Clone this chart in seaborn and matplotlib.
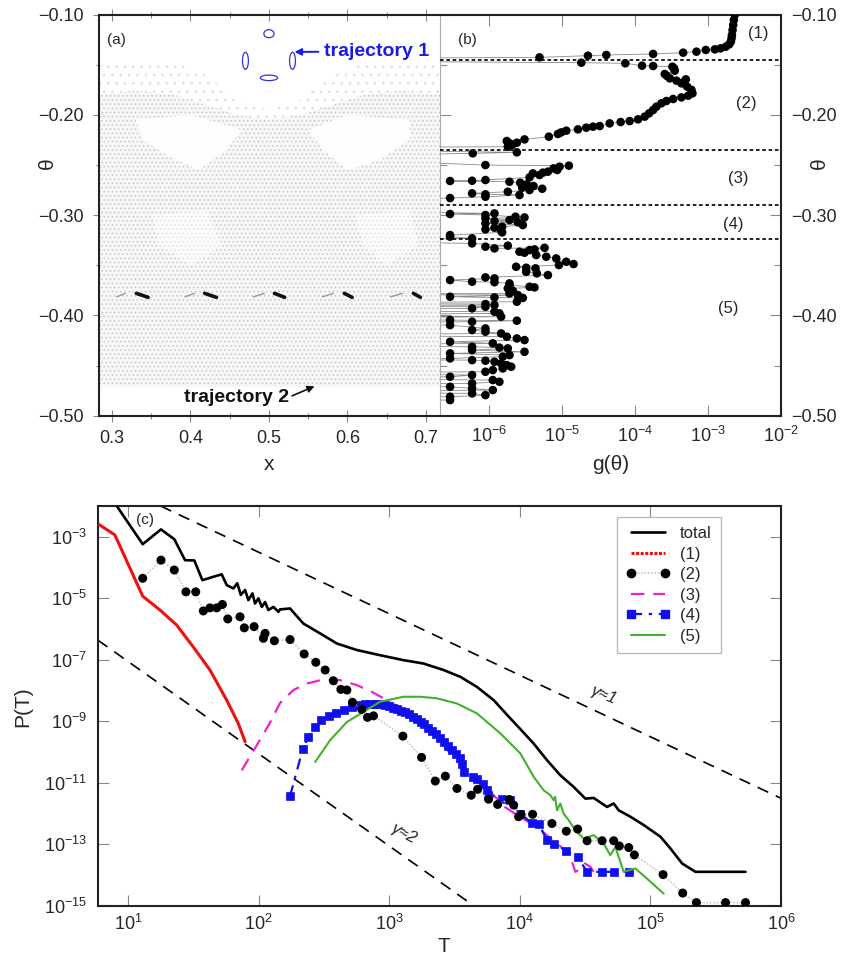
import numpy as np
import pandas as pd
import matplotlib
matplotlib.use('Agg')
import matplotlib.pyplot as plt
import seaborn as sns
from matplotlib.patches import Ellipse
from matplotlib.lines import Line2D
from matplotlib.ticker import FixedLocator, NullLocator, FuncFormatter

# ---------------- panel (a): phase-space picture ----------------
cloud_top_x = [0.283, 0.33, 0.38, 0.42, 0.46, 0.50, 0.54, 0.58, 0.62, 0.67, 0.718]
cloud_top_theta = [-0.150, -0.146, -0.148, -0.160, -0.185, -0.195, -0.185, -0.160, -0.148, -0.146, -0.150]
dense_top_theta = [-0.180, -0.176, -0.180, -0.190, -0.200, -0.205, -0.200, -0.190, -0.180, -0.176, -0.180]
cloud_bottom_theta = -0.471
hole_left_x = [0.330, 0.400, 0.465, 0.445, 0.410, 0.370, 0.340]
hole_left_theta = [-0.205, -0.200, -0.215, -0.235, -0.255, -0.240, -0.225]
hole_right_x = [0.550, 0.600, 0.680, 0.680, 0.640, 0.600, 0.570]
hole_right_theta = [-0.215, -0.200, -0.205, -0.225, -0.245, -0.255, -0.235]
hole2_left_x = [0.350, 0.420, 0.440, 0.400, 0.360]
hole2_left_theta = [-0.300, -0.295, -0.330, -0.350, -0.330]
hole2_right_x = [0.610, 0.680, 0.690, 0.650, 0.620]
hole2_right_theta = [-0.300, -0.295, -0.330, -0.350, -0.330]

island_dark_x0 = [0.331, 0.418, 0.507, 0.596, 0.684]
island_dark_x1 = [0.346, 0.433, 0.520, 0.606, 0.693]
island_faint_x0 = [0.306, 0.393, 0.480, 0.568, 0.655]
island_faint_x1 = [0.317, 0.405, 0.494, 0.582, 0.670]
island_theta0 = -0.3779
island_theta1 = -0.3819

traj1_cx = [0.500, 0.470, 0.530, 0.500]
traj1_ctheta = [-0.1190, -0.1460, -0.1460, -0.1630]
traj1_w = [0.013, 0.0075, 0.0075, 0.022]
traj1_h = [0.008, 0.017, 0.017, 0.0055]

# ---------------- panel (b): g(theta) ----------------
theta_b = [
    -0.1000, -0.1053, -0.1103, -0.1153, -0.1203, -0.1236, -0.1269, -0.1296, -0.1319, -0.1336,
    -0.1346, -0.1352, -0.1369, -0.1379, -0.1392, -0.1402, -0.1409, -0.1426, -0.1439, -0.1460,
    -0.1479, -0.1485, -0.1509, -0.1512, -0.1519, -0.1535, -0.1559, -0.1592, -0.1612, -0.1635,
    -0.1645, -0.1658, -0.1685, -0.1718, -0.1751, -0.1785, -0.1808, -0.1825, -0.1841, -0.1861,
    -0.1884, -0.1918, -0.1951, -0.1984, -0.2017, -0.2044, -0.2061, -0.2071, -0.2084, -0.2111,
    -0.2117, -0.2127, -0.2144, -0.2157, -0.2174, -0.2190, -0.2217, -0.2244, -0.2260, -0.2277,
    -0.2283, -0.2300, -0.2317, -0.2327, -0.2340, -0.2373, -0.2383,
    -0.2416, -0.2500, -0.2506, -0.2516, -0.2533, -0.2549, -0.2566, -0.2576, -0.2583, -0.2599,
    -0.2623, -0.2649, -0.2656, -0.2659, -0.2666, -0.2676, -0.2692, -0.2709, -0.2726, -0.2736,
    -0.2749, -0.2766, -0.2782, -0.2792, -0.2799, -0.2816, -0.2829, -0.2865,
    -0.2950, -0.2982, -0.2988, -0.2998, -0.3015, -0.3022, -0.3032, -0.3048, -0.3058, -0.3071,
    -0.3081, -0.3098, -0.3115, -0.3125, -0.3141, -0.3155, -0.3171, -0.3198, -0.3214,
    -0.3231, -0.3254, -0.3281, -0.3304, -0.3314, -0.3331, -0.3325, -0.3341, -0.3347, -0.3364,
    -0.3374, -0.3397, -0.3414, -0.3431, -0.3464, -0.3487, -0.3497, -0.3514, -0.3524, -0.3530,
    -0.3564, -0.3580, -0.3597, -0.3620, -0.3630, -0.3647, -0.3663, -0.3668, -0.3680, -0.3697,
    -0.3713, -0.3720, -0.3730, -0.3753, -0.3780, -0.3790, -0.3796, -0.3813, -0.3820, -0.3825,
    -0.3863, -0.3875, -0.3886, -0.3896, -0.3905, -0.3913, -0.3929, -0.3945, -0.3963, -0.3979,
    -0.3995, -0.4012, -0.4030, -0.4046, -0.4052, -0.4062, -0.4080, -0.4096, -0.4129, -0.4145,
    -0.4162, -0.4179, -0.4195, -0.4212, -0.4229, -0.4245, -0.4262, -0.4278, -0.4295, -0.4312,
    -0.4320, -0.4328, -0.4345, -0.4362, -0.4378, -0.4395, -0.4411, -0.4428, -0.4437, -0.4445,
    -0.4451, -0.4461, -0.4478, -0.4495, -0.4511, -0.4528, -0.4544, -0.4561, -0.4575, -0.4594,
    -0.4611, -0.4625, -0.4644, -0.4661, -0.4677, -0.4690, -0.4711, -0.4727, -0.4744, -0.4760,
    -0.4777, -0.4794, -0.4810, -0.4825, -0.4844]
log10_g_b = [
    -2.633, -2.647, -2.656, -2.665, -2.674, -2.679, -2.688, -2.711, -2.757, -2.830,
    -2.908, -3.032, -3.160, -3.343, -3.755, -4.397, -4.649, -5.313, -9.0, -9.0,
    -4.740, -4.136, -3.907, -3.755, -3.490, -3.467, -3.458, -3.595, -3.563, -3.526,
    -3.306, -3.435, -3.366, -3.288, -3.228, -3.215, -3.274, -3.366, -3.480, -3.572,
    -3.641, -3.710, -3.755, -3.810, -3.870, -3.962, -4.076, -4.200, -4.351, -4.488,
    -4.580, -4.672, -4.786, -4.946, -5.015, -5.061, -5.185, -5.519, -5.762, -5.624,
    -5.725, -5.688, -5.748, -9.0, -9.0, -5.624, -6.229,
    -9.0, -6.055, -4.910, -5.038, -5.120, -5.070, -5.198, -5.267, -5.404, -5.313,
    -5.450, -6.055, -6.238, -6.540, -5.725, -5.579, -5.487, -5.395, -5.551, -5.276,
    -5.450, -5.748, -6.238, -6.055, -5.588, -6.055, -6.540, -9.0,
    -9.0, -5.931, -6.540, -6.055, -5.643, -5.519, -6.055, -5.725, -5.931, -5.611,
    -6.055, -5.542, -5.826, -5.931, -6.055, -5.840, -5.826, -6.540, -6.540,
    -6.238, -9.0, -6.238, -5.748, -6.055, -5.931, -5.244, -5.382, -5.450, -5.588,
    -5.519, -5.359, -5.221, -5.084, -4.946, -4.846, -5.047, -5.634, -5.496, -5.368,
    -5.496, -5.350, -5.198, -6.055, -5.931, -6.540, -6.238, -5.931, -5.725, -5.725,
    -5.450, -5.382, -5.748, -5.679, -5.725, -9.0, -5.611, -6.540, -5.931, -5.542,
    -5.624, -9.0, -6.055, -5.931, -9.0, -6.055, -6.238, -9.0, -5.931, -5.863,
    -9.0, -5.840, -9.0, -6.540, -5.624, -6.238, -9.0, -6.540, -6.055, -6.238,
    -6.055, -5.840, -9.0, -5.762, -5.624, -5.519, -6.540, -5.954, -9.0, -6.238,
    -5.863, -5.748, -6.238, -5.519, -6.540, -5.725, -5.817, -6.540, -9.0, -6.238,
    -6.055, -5.931, -5.840, -5.762, -5.702, -5.817, -5.954, -6.055, -9.0, -6.238,
    -6.540, -9.0, -5.954, -5.863, -6.238, -9.0, -6.540, -6.238, -5.954, -9.0,
    -6.238, -6.055, -6.540, -9.0, -6.540]
region_bounds = [-0.145, -0.235, -0.290, -0.324]
region_labels = ['(1)', '(2)', '(3)', '(4)', '(5)']
region_label_pos = [(0.934, 0.954), (0.899, 0.779), (0.875, 0.592), (0.860, 0.478), (0.844, 0.268)]

# ---------------- panel (c): P(T) ----------------
total_log10T = [0.913, 1.113, 1.253, 1.355, 1.437, 1.508, 1.570, 1.654, 1.718, 1.756,
                1.807, 1.837, 1.864, 1.897, 1.922, 1.953, 1.973, 1.999, 2.025, 2.050,
                2.075, 2.114, 2.152, 2.165, 2.241, 2.343, 2.471, 2.600, 2.752, 2.931,
                3.110, 3.263, 3.416, 3.544, 3.672, 3.800, 3.927, 4.004, 4.106, 4.208,
                4.310, 4.412, 4.502, 4.566, 4.668, 4.719, 4.757, 4.847, 4.949, 5.077,
                5.153, 5.243, 5.345, 5.728]
total_log10P = [-1.99, -3.24, -2.76, -3.08, -3.76, -3.77, -4.41, -4.30, -4.22, -4.57,
                -4.68, -4.51, -4.89, -4.73, -5.06, -4.84, -5.17, -5.00, -5.28, -5.12,
                -5.38, -5.28, -5.44, -5.36, -5.33, -5.82, -6.14, -6.47, -6.68, -6.85,
                -7.01, -7.12, -7.33, -7.55, -7.88, -8.31, -8.90, -9.25, -9.72, -10.26,
                -10.75, -11.13, -11.51, -11.49, -11.78, -11.67, -11.89, -12.10, -12.37, -12.75,
                -13.13, -13.62, -13.89, -13.89]
r1_log10T = [0.778, 0.900, 1.113, 1.245, 1.373, 1.500, 1.628, 1.756, 1.845, 1.897]
r1_log10P = [-2.60, -2.94, -4.93, -5.38, -5.87, -6.58, -7.33, -8.31, -9.07, -9.66]
r2_log10T = [1.113, 1.253, 1.355, 1.444, 1.519, 1.577, 1.628, 1.680, 1.723, 1.764,
             1.858, 1.891, 1.966, 2.037, 2.050, 2.121, 2.241, 2.349, 2.438, 2.510,
             2.573, 2.630, 2.676, 2.719, 2.790, 2.834, 2.880, 3.105, 3.248, 3.353,
             3.430, 3.519, 3.628, 3.677, 3.761, 3.830, 3.920, 3.953, 3.991, 4.009,
             4.098, 4.246, 4.356, 4.443, 4.515, 4.630, 4.719, 4.762, 4.834, 4.877,
             5.097, 5.247, 5.352, 5.575, 5.728]
r2_log10P = [-4.35, -3.76, -4.08, -4.79, -4.79, -5.41, -5.31, -5.31, -5.20, -5.67,
             -5.60, -5.96, -5.92, -6.30, -6.14, -6.38, -6.34, -6.81, -7.08, -7.33,
             -7.68, -7.96, -7.98, -8.38, -8.61, -8.87, -8.82, -9.48, -10.17, -10.94,
             -10.78, -11.18, -11.40, -11.21, -11.53, -11.70, -11.54, -11.72, -12.10, -12.03,
             -12.02, -12.32, -12.57, -12.50, -12.88, -12.88, -12.88, -13.05, -13.10, -13.34,
             -13.98, -14.58, -14.89, -14.89, -14.89]
r3_log10T = [1.871, 1.994, 2.080, 2.165, 2.267, 2.369, 2.497, 2.625, 2.752, 2.880,
             2.982, 3.100, 3.200, 3.300, 3.400, 3.500, 3.600, 3.700, 3.800, 3.884,
             4.000, 4.130, 4.250, 4.361, 4.387, 4.425, 4.469, 4.500, 4.540, 4.566]
r3_log10P = [-10.59, -9.72, -9.10, -8.40, -7.98, -7.77, -7.64, -7.66, -7.82, -8.07,
             -8.31, -8.60, -8.90, -9.25, -9.70, -10.20, -10.65, -11.05, -11.40, -11.78,
             -12.10, -12.43, -12.85, -13.24, -13.40, -13.89, -13.78, -13.62, -13.73, -13.89]
r4_log10T = [2.241, 2.339, 2.382, 2.433, 2.479, 2.537, 2.590, 2.652, 2.713, 2.767,
             2.816, 2.850, 2.880, 2.910, 2.940, 2.970, 3.000, 3.030, 3.060, 3.090,
             3.120, 3.150, 3.180, 3.210, 3.240, 3.270, 3.300, 3.330, 3.360, 3.390,
             3.420, 3.450, 3.480, 3.510, 3.540, 3.555, 3.576, 3.638, 3.672, 3.720,
             3.749, 3.760, 3.863, 3.927, 4.004, 4.090, 4.144, 4.208, 4.259, 4.356,
             4.443, 4.515, 4.630, 4.719, 4.834]
r4_log10P = [-11.43, -9.89, -9.50, -9.18, -8.95, -8.83, -8.74, -8.63, -8.53, -8.47,
             -8.42, -8.42, -8.42, -8.43, -8.45, -8.47, -8.50, -8.55, -8.60, -8.65,
             -8.70, -8.77, -8.85, -8.93, -9.02, -9.10, -9.20, -9.30, -9.42, -9.55,
             -9.68, -9.80, -9.93, -10.05, -10.20, -10.37, -10.64, -10.80, -10.86, -11.02,
             -11.24, -11.40, -11.51, -11.56, -12.00, -12.30, -12.32, -12.86, -12.97, -13.21,
             -13.41, -13.89, -13.89, -13.89, -13.89]
r5_log10T = [2.433, 2.548, 2.676, 2.803, 2.931, 3.110, 3.238, 3.365, 3.519, 3.672,
             3.851, 4.004, 4.106, 4.183, 4.234, 4.259, 4.270, 4.285, 4.310, 4.336,
             4.374, 4.425, 4.489, 4.566, 4.642, 4.693, 4.732, 4.795, 4.885, 5.000, 5.102]
r5_log10P = [-10.32, -9.61, -9.02, -8.69, -8.36, -8.20, -8.20, -8.25, -8.42, -8.74,
             -9.39, -10.04, -10.80, -11.24, -11.40, -11.56, -11.45, -11.89, -11.67, -12.00,
             -12.21, -12.54, -12.81, -12.70, -12.97, -13.35, -13.08, -13.89, -13.78, -14.21, -14.60]
gamma1_log10T = [1.25, 6.0]      # reference line P ~ T^-2 (gamma = 1)
gamma1_log10P = [-2.00, -11.50]
gamma2_log10T = [0.77, 3.65]     # reference line P ~ T^-3 (gamma = 2)
gamma2_log10P = [-6.36, -15.00]

# ---------------- style ----------------
sns.set_theme(style='white')
plt.rcParams['font.family'] = ['Liberation Sans', 'DejaVu Sans']
plt.rcParams['mathtext.fontset'] = 'custom'
plt.rcParams['mathtext.rm'] = 'Liberation Sans'
plt.rcParams['mathtext.it'] = 'Liberation Sans:italic'
plt.rcParams['mathtext.bf'] = 'Liberation Sans:bold'
plt.rcParams['hatch.linewidth'] = 0.6

SP = '#222222'
TK = '#888888'
FS = 13

fig = plt.figure(figsize=(8.42, 9.58), dpi=100)
axA = fig.add_axes([0.1172, 0.566, 0.4054, 0.4187])
axB = fig.add_axes([0.5226, 0.566, 0.4050, 0.4187])
axC = fig.add_axes([0.1164, 0.0543, 0.8112, 0.4175])

minus = lambda s: s.replace('-', '\u2212')

# ---- panel a ----
axA.set_xlim(0.283, 0.718)
axA.set_ylim(-0.5, -0.1)
top_poly_x = cloud_top_x + cloud_top_x[::-1]
top_poly_t = cloud_top_theta + dense_top_theta[::-1]
axA.fill(top_poly_x, top_poly_t, facecolor='white', edgecolor='#dddddd', hatch='..', linewidth=0, zorder=1)
dense_x = cloud_top_x + [cloud_top_x[-1], cloud_top_x[0]]
dense_t = dense_top_theta + [cloud_bottom_theta, cloud_bottom_theta]
axA.fill(dense_x, dense_t, facecolor='#f7f7f7', edgecolor='#c6c6c6', hatch='....', linewidth=0, zorder=1)
for hx, ht, a in [(hole_left_x, hole_left_theta, 0.95), (hole_right_x, hole_right_theta, 0.95),
                  (hole2_left_x, hole2_left_theta, 0.5), (hole2_right_x, hole2_right_theta, 0.5)]:
    axA.fill(hx, ht, facecolor='white', edgecolor='none', alpha=a, zorder=2)
for x0, x1 in zip(island_dark_x0, island_dark_x1):
    sns.lineplot(x=[x0, x1], y=[island_theta0, island_theta1], ax=axA, color='#111111',
                 lw=2.6, sort=False, estimator=None, zorder=3)
for x0, x1 in zip(island_faint_x0, island_faint_x1):
    sns.lineplot(x=[x0, x1], y=[island_theta1 + 0.0005, island_theta0], ax=axA, color='#999999',
                 lw=1.0, sort=False, estimator=None, zorder=3)
for cx, ct, w, h in zip(traj1_cx, traj1_ctheta, traj1_w, traj1_h):
    axA.add_patch(Ellipse((cx, ct), w, h, facecolor='none', edgecolor='#3333dd', lw=0.9, zorder=4))
axA.annotate('trajectory 1', xy=(0.5325, -0.1372), xytext=(0.5707, -0.1365),
             fontsize=14, fontweight='bold', color='#1a1ae6', va='center', ha='left',
             arrowprops=dict(arrowstyle='-|>', color='#1a1ae6', lw=1.4, mutation_scale=10,
                             shrinkA=2, shrinkB=0), zorder=5)
axA.annotate('trajectory 2', xy=(0.558, -0.4706), xytext=(0.3915, -0.4815),
             fontsize=14, fontweight='bold', color='#111111', va='center', ha='left',
             arrowprops=dict(arrowstyle='-|>', color='#111111', lw=1.2, mutation_scale=10,
                             shrinkA=0, shrinkB=0, relpos=(1.0, 0.5)), zorder=5)
axA.text(0.024, 0.937, '(a)', transform=axA.transAxes, fontsize=11, va='center', ha='left')
axA.xaxis.set_major_locator(FixedLocator([0.3, 0.4, 0.5, 0.6, 0.7]))
axA.xaxis.set_minor_locator(FixedLocator([0.35, 0.45, 0.55, 0.65]))
axA.yaxis.set_major_locator(FixedLocator([-0.5, -0.4, -0.3, -0.2, -0.1]))
axA.yaxis.set_minor_locator(FixedLocator([-0.45, -0.35, -0.25, -0.15]))
axA.xaxis.set_major_formatter(FuncFormatter(lambda v, p: f'{v:.1f}'))
axA.yaxis.set_major_formatter(FuncFormatter(lambda v, p: minus(f'{v:.2f}')))
axA.tick_params(which='both', direction='inout', color=TK, width=0.8, labelsize=FS,
                top=True, bottom=True, left=True, right=False)
axA.tick_params(which='major', length=9, pad=6)
axA.tick_params(which='minor', length=5)
axA.set_xlabel('x', fontsize=15)
axA.set_ylabel('θ', fontsize=15)
axA.xaxis.set_label_coords(0.5, -0.098)
axA.yaxis.set_label_coords(-0.122, 0.63)
for s in ['left', 'top', 'bottom']:
    axA.spines[s].set_color(SP)
    axA.spines[s].set_linewidth(1.5)
axA.spines['right'].set_visible(False)

# ---- panel b ----
axB.set_xscale('log')
axB.set_xlim(2.1e-7, 1e-2)
axB.set_ylim(-0.5, -0.1)
g_vals = [10.0 ** v for v in log10_g_b]
dfb = pd.DataFrame({'g': g_vals, 'theta': theta_b})
sns.lineplot(data=dfb, x='g', y='theta', ax=axB, color='#8a8a8a', lw=0.6,
             sort=False, estimator=None, zorder=2)
sns.scatterplot(data=dfb, x='g', y='theta', ax=axB, color='black', s=38,
                edgecolor='none', zorder=3)
for b in region_bounds:
    axB.axhline(b, color='#111111', lw=1.3, ls=(0, (2, 1.5)), zorder=4)
for lab, (px, py) in zip(region_labels, region_label_pos):
    axB.text(px, py, lab, transform=axB.transAxes, fontsize=12, ha='center', va='center')
axB.text(0.053, 0.937, '(b)', transform=axB.transAxes, fontsize=11, va='center', ha='left')
axB.xaxis.set_major_locator(FixedLocator([1e-6, 1e-5, 1e-4, 1e-3, 1e-2]))
axB.xaxis.set_minor_locator(NullLocator())
axB.yaxis.set_major_locator(FixedLocator([-0.5, -0.4, -0.3, -0.2, -0.1]))
axB.yaxis.set_minor_locator(FixedLocator([-0.45, -0.35, -0.25, -0.15]))
axB.yaxis.set_major_formatter(FuncFormatter(lambda v, p: minus(f'{v:.2f}')))
axB.yaxis.tick_right()
axB.yaxis.set_label_position('right')
axB.tick_params(which='both', direction='in', color=TK, width=0.8, labelsize=FS,
                top=True, bottom=True, left=True, right=True, labelleft=False, labelright=True)
axB.tick_params(which='major', length=8, pad=7)
axB.tick_params(which='minor', length=5)
axB.set_xlabel('g(θ)', fontsize=15)
axB.set_ylabel('θ', fontsize=15, rotation=90)
axB.xaxis.set_label_coords(0.5, -0.098)
axB.yaxis.set_label_coords(1.085, 0.63)
for s in ['right', 'top', 'bottom']:
    axB.spines[s].set_color(SP)
    axB.spines[s].set_linewidth(1.5)
axB.spines['left'].set_color('#aaaaaa')
axB.spines['left'].set_linewidth(0.8)

# ---- panel c ----
axC.set_xscale('log')
axC.set_yscale('log')
axC.set_xlim(5.9, 1e6)
axC.set_ylim(1e-15, 1e-2)

def tp(a):
    return [10.0 ** v for v in a]

sns.lineplot(x=tp(gamma1_log10T), y=tp(gamma1_log10P), ax=axC, color='black', lw=1.2,
             linestyle=(0, (7, 5)), sort=False, estimator=None, zorder=2)
sns.lineplot(x=tp(gamma2_log10T), y=tp(gamma2_log10P), ax=axC, color='black', lw=1.2,
             linestyle=(0, (7, 5)), sort=False, estimator=None, zorder=2)
sns.lineplot(x=tp(r3_log10T), y=tp(r3_log10P), ax=axC, color='#ee22cc', lw=1.6,
             linestyle=(0, (6, 4)), sort=False, estimator=None, zorder=3)
sns.lineplot(x=tp(r4_log10T), y=tp(r4_log10P), ax=axC, color='#1010ee', lw=1.6,
             linestyle=(0, (5, 3, 1.5, 3)), marker='s', markersize=6, markerfacecolor='#1010ee',
             markeredgecolor='#1010ee', markeredgewidth=0.5, sort=False, estimator=None, zorder=4)
sns.lineplot(x=tp(r5_log10T), y=tp(r5_log10P), ax=axC, color='#44b030', lw=1.5,
             sort=False, estimator=None, zorder=5)
sns.lineplot(x=tp(r2_log10T), y=tp(r2_log10P), ax=axC, color='#c8c8c8', lw=1.2,
             linestyle=(0, (1, 1)), sort=False, estimator=None, zorder=5)
sns.scatterplot(x=tp(r2_log10T), y=tp(r2_log10P), ax=axC, color='black', s=42,
                edgecolor='none', zorder=6)
sns.lineplot(x=tp(r1_log10T), y=tp(r1_log10P), ax=axC, color='#ee1111', lw=2.2,
             sort=False, estimator=None, zorder=6)
sns.lineplot(x=tp(total_log10T), y=tp(total_log10P), ax=axC, color='black', lw=1.9,
             sort=False, estimator=None, zorder=7)

axC.text(10 ** 4.64, 10 ** -8.15, 'γ≈1', fontsize=12, style='italic', rotation=-22,
         ha='center', va='center')
axC.text(10 ** 3.11, 10 ** -12.64, 'γ≈2', fontsize=12, style='italic', rotation=-28,
         ha='center', va='center')
axC.text(0.056, 0.965, '(c)', transform=axC.transAxes, fontsize=11, va='center', ha='left')

handles = [
    Line2D([], [], color='black', lw=1.9),
    Line2D([], [], color='#ee1111', lw=2.2, ls=(0, (1, 0.5))),
    Line2D([], [], color='#c8c8c8', lw=1.2, ls=(0, (1, 1)), marker='o', markersize=6,
           markerfacecolor='black', markeredgecolor='black'),
    Line2D([], [], color='#ee22cc', lw=1.6, ls=(0, (6, 4))),
    Line2D([], [], color='#1010ee', lw=1.6, ls=(0, (5, 3, 1.5, 3)), marker='s', markersize=6,
           markerfacecolor='#1010ee', markeredgecolor='#1010ee'),
    Line2D([], [], color='#44b030', lw=1.5),
]
leg = axC.legend(handles, ['total', '(1)', '(2)', '(3)', '(4)', '(5)'], loc='upper left',
                 bbox_to_anchor=(0.76, 0.9725), borderaxespad=0.0, fontsize=12, frameon=True,
                 fancybox=False, edgecolor='#bbbbbb', framealpha=1.0, numpoints=2,
                 handlelength=2.6, labelspacing=0.33, borderpad=0.55, handletextpad=0.6)
leg.get_frame().set_linewidth(1.0)

axC.xaxis.set_major_locator(FixedLocator([1e1, 1e2, 1e3, 1e4, 1e5, 1e6]))
axC.xaxis.set_minor_locator(NullLocator())
axC.yaxis.set_major_locator(FixedLocator([1e-15, 1e-13, 1e-11, 1e-9, 1e-7, 1e-5, 1e-3]))
axC.yaxis.set_minor_locator(NullLocator())
axC.tick_params(which='both', direction='in', color=TK, width=0.8, labelsize=FS,
                top=True, bottom=True, left=True, right=True, length=8)
axC.tick_params(axis='x', pad=6)
axC.tick_params(axis='y', pad=8)
axC.set_xlabel('T', fontsize=15)
axC.set_ylabel('P(T)', fontsize=15)
axC.xaxis.set_label_coords(0.506, -0.077)
axC.yaxis.set_label_coords(-0.097, 0.4975)
for s in axC.spines.values():
    s.set_color(SP)
    s.set_linewidth(1.5)

fig.savefig('out.png', dpi=100)
